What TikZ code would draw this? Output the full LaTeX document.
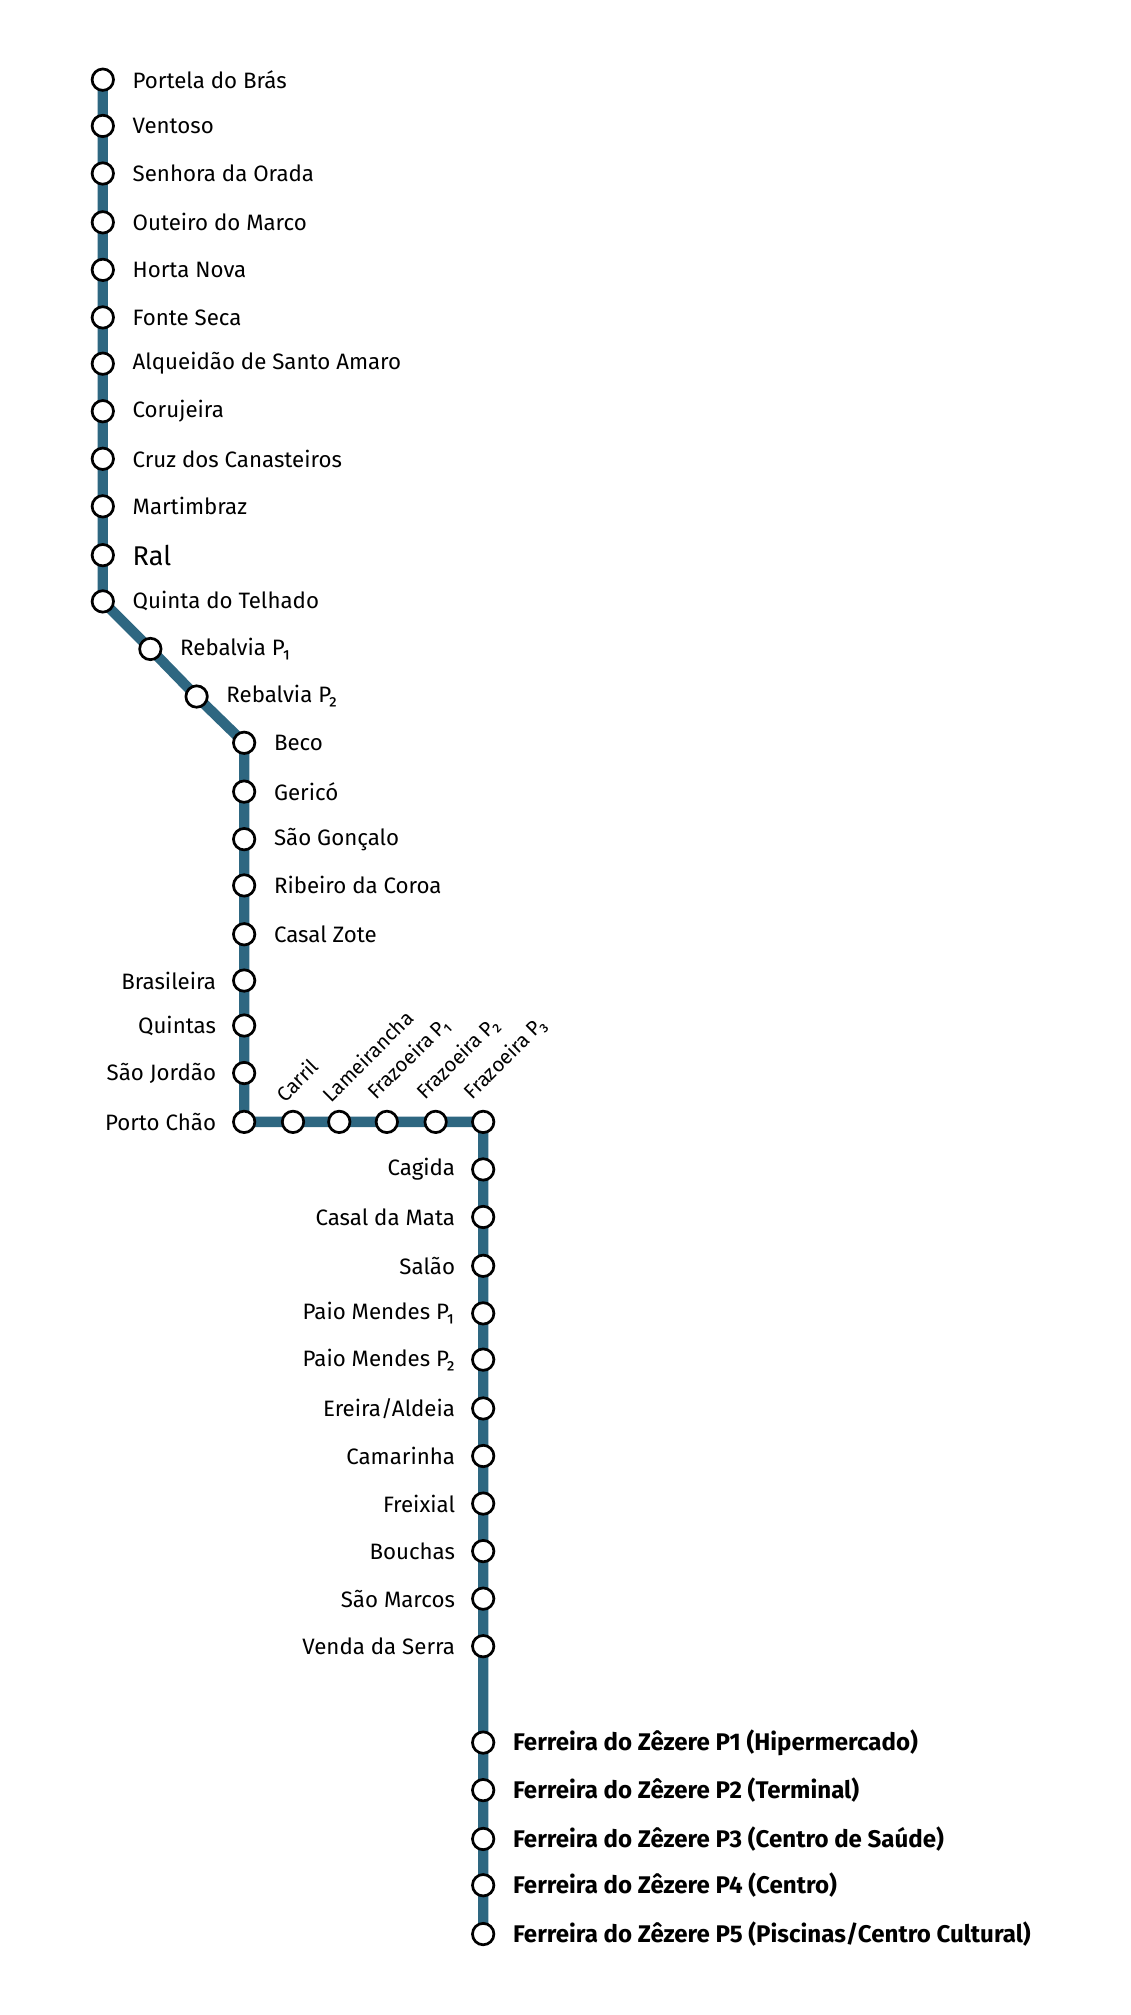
\documentclass[tikz,border=0pt]{standalone}
\usepackage{fontspec}
\setmainfont{Fira Sans}
\usetikzlibrary{positioning}
\definecolor{linecol}{HTML}{2E6781}
\tikzset{
    x=0.03cm,y=-0.03cm,
    station/.style ={circle, draw, line width=1.8pt, fill=white, minimum size=0.5cm, inner sep=0pt},
    track/.style = {linecol, line width=0.24cm},
    lbl/.style = {font=\fontsize{14.8}{17}\selectfont, inner sep=0pt}
}
\begin{document}
\begin{tikzpicture}
    \useasboundingbox (0,0) rectangle (880,1568);
    % first column
    \foreach \y [count=\i] in {62,98,135,173,210,247,283,320,357,394,432,468}
        \coordinate (a\i) at (80,\y);
    \coordinate (r1) at (117,505);
    \coordinate (r2) at (153,542);
    \foreach \y [count=\i] in {578,616,653,689,727,763,798,835,873}
        \coordinate (b\i) at (190,\y);
    \foreach \x [count=\i] in {228,264,301,339,376}
        \coordinate (h\i) at (\x,873);
    \foreach \y [count=\i] in {910,947,985,1022,1058,1096,1133,1170,1207,1244,1281,1356,1393,1431,1467,1505}
        \coordinate (c\i) at (376,\y);

    \draw[track] (a1) -- (a12) -- (r1) -- (r2) -- (b1) -- (b9) -- (h5) -- (c16);

    \foreach \n/\t in {a1/Portela do Brás, a2/Ventoso, a3/Senhora da Orada, a4/Outeiro do Marco,
        a5/Horta Nova, a6/Fonte Seca, a7/Alqueidão de Santo Amaro, a8/Corujeira,
        a9/Cruz dos Canasteiros, a10/Martimbraz, a12/Quinta do Telhado,
        r1/Rebalvia P₁, r2/Rebalvia P₂, b1/Beco, b2/Gericó, b3/São Gonçalo,
        b4/Ribeiro da Coroa, b5/Casal Zote}
    {
        \node[station] (s\n) at (\n) {};
        \node[lbl, right=0.69cm of s\n.center] {\t};
    }
    \node[station] (sa11) at (a11) {};
    \node[lbl, font=\fontsize{18}{20}\selectfont, right=0.69cm of sa11.center] {Ral};

    \foreach \n/\t in {b6/Brasileira, b7/Quintas, b8/São Jordão, b9/Porto Chão,
        c1/Cagida, c2/Casal da Mata, c3/Salão, c4/Paio Mendes P₁, c5/Paio Mendes P₂,
        c6/{Ereira/Aldeia}, c7/Camarinha, c8/Freixial, c9/Bouchas, c10/São Marcos,
        c11/Venda da Serra}
    {
        \node[station] (s\n) at (\n) {};
        \node[lbl, left=0.65cm of s\n.center] {\t};
    }

    \foreach \n/\t in {h1/Carril, h2/Lameirancha, h3/Frazoeira P₁, h4/Frazoeira P₂, h5/Frazoeira P₃}
    {
        \node[station] (s\n) at (\n) {};
        \node[lbl, font=\fontsize{13.5}{15}\selectfont, rotate=45, anchor=south west] at ([shift={(-6,-14)}]\n) {\t};
    }

    \foreach \n/\t in {c12/Ferreira do Zêzere P1 (Hipermercado), c13/Ferreira do Zêzere P2 (Terminal),
        c14/Ferreira do Zêzere P3 (Centro de Saúde), c15/Ferreira do Zêzere P4 (Centro),
        c16/{Ferreira do Zêzere P5 (Piscinas/Centro Cultural)}}
    {
        \node[station] (s\n) at (\n) {};
        \node[lbl, font=\bfseries\fontsize{16}{18}\selectfont, right=0.69cm of s\n.center] {\t};
    }
\end{tikzpicture}
\end{document}
